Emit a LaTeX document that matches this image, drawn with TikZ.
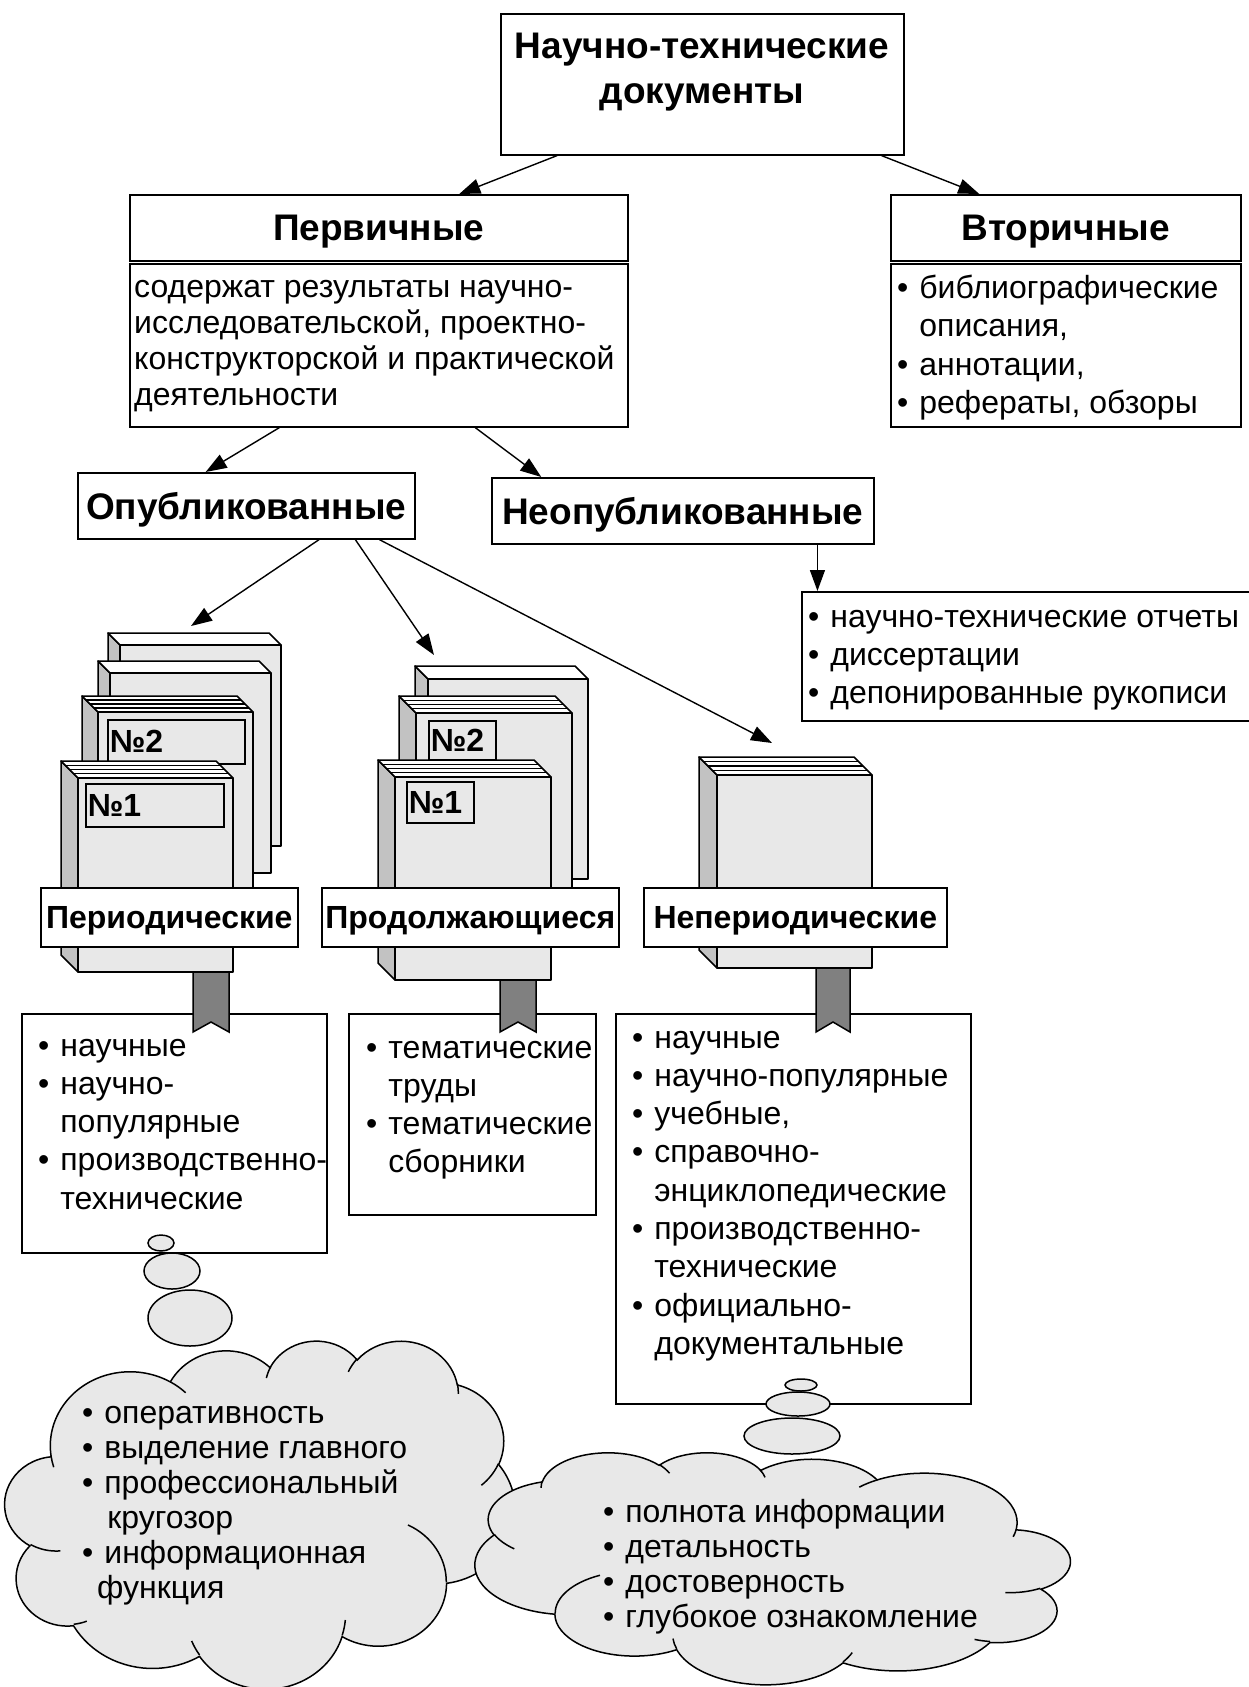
\documentclass[tikz,border=0pt]{standalone}
\usepackage{fontspec}
\setmainfont{Liberation Sans}
\usetikzlibrary{arrows.meta,calc}

\definecolor{facegray}{gray}{0.91}
\definecolor{spinegray}{gray}{0.76}
\definecolor{ribbongray}{gray}{0.50}
\definecolor{cloudgray}{gray}{0.91}

\newcommand\bodytext{\fontsize{32}{38.3}\selectfont}
\newcommand\desctext{\fontsize{32}{36}\selectfont}
\newcommand\sectext{\fontsize{32}{38.5}\selectfont}
\newcommand\cloudtext{\fontsize{32}{35}\selectfont}
\newcommand\headtext{\fontsize{37}{45}\selectfont\bfseries}
\newcommand\labeltext{\fontsize{32}{38}\selectfont\bfseries}
\newcommand\bitem{\textbullet\hspace{11pt}}
\newcommand\bindent{\phantom{\textbullet}\hspace{11pt}}

\tikzset{
  box/.style={draw, line width=1.6pt, fill=white, inner sep=0pt, anchor=north west},
  headbox/.style={box, font=\headtext, text depth=0pt},
  conn/.style={line width=1.4pt, -{Triangle[length=21pt,width=15pt]}},
  lst/.style={font=\bodytext, align=left, anchor=north west, inner sep=0pt},
  bookline/.style={line width=1.5pt, line join=round},
  numlabel/.style={draw, line width=1.5pt, fill=facegray, inner xsep=2pt, inner ysep=0pt,
    anchor=north west, align=left, font=\labeltext},
  kindlabel/.style={box, font=\labeltext, text depth=0pt, minimum height=59},
  ribbon/.style={draw, line width=1.5pt, fill=ribbongray},
  bubble/.style={draw, line width=1.5pt, fill=cloudgray},
  % elliptic arc given by radii, visual start angle and sweep
  ooarc/.style n args={4}{insert path={arc[x radius=#1, y radius=#2,
      start angle={atan2((#1)*sin(#3),(#2)*cos(#3))},
      delta angle={mod(atan2((#1)*sin((#3)+(#4)),(#2)*cos((#3)+(#4)))-atan2((#1)*sin(#3),(#2)*cos(#3))+720,360)}]}},
}

% book with spine, top edge and front face; last argument 1 adds page lines
\newcommand\drawbook[6]{%
  \filldraw[bookline, fill=spinegray] (#1,#2) -- (#1+#3,#2+#3) -- (#1+#3,#5) -- (#1,#5-#3) -- cycle;
  \filldraw[bookline, fill=white] (#1,#2) -- (#4-#3,#2) -- (#4,#2+#3) -- (#1+#3,#2+#3) -- cycle;
  \filldraw[bookline, fill=facegray] (#1+#3,#2+#3) rectangle (#4,#5);
  \ifnum#6=1
    \foreach \f in {0.25,0.5,0.75}
      \draw[line width=1.1pt] (#1+\f*#3,#2+\f*#3) -- (#4-#3+\f*#3,#2+\f*#3);
  \fi}

% cloud outline in a 4320 x 4320 frame, placed by shift and scale
\newcommand\cloudshape[4]{%
  \begin{scope}[shift={(#1,#2)}, xscale=#3, yscale=#4]
    \filldraw[line width=1.5pt, fill=cloudgray] (390,1437)
      [ooarc={675.3}{919.0}{-190.4875}{123.7805}]
      [ooarc={533.3}{726.7}{-144.1024}{89.9452}]
      [ooarc={436.5}{594.5}{-145.8079}{99.7230}]
      [ooarc={485.7}{659.5}{-130.9861}{117.2417}]
      [ooarc={533.3}{727.3}{-78.7089}{109.0269}]
      [ooarc={677.5}{922.0}{-46.2673}{130.2690}]
      [ooarc={578.5}{786.7}{0.6250}{114.0333}]
      [ooarc={675.2}{921.5}{22.4516}{115.1726}]
      [ooarc={772.0}{1054.3}{66.2426}{75.7110}]
      [ooarc={436.0}{591.8}{-274.9421}{146.7356}]
      [ooarc={434.5}{594.5}{-246.8285}{152.5189}]
      -- cycle;
    \draw[line width=1.5pt]
      (469.3,2617.7) [ooarc={434.5}{594.5}{86.7420}{26.4295}]
      (692.8,3489.9) [ooarc={436.0}{591.8}{73.6105}{11.4475}]
      (1647.8,3909.0) [ooarc={675.2}{921.5}{137.6242}{14.0811}]
      (2882.7,3475.1) [ooarc={675.2}{921.5}{6.4533}{15.9984}]
      (3412.9,2295.4) [ooarc={578.5}{786.7}{-70.2924}{70.9174}]
      (4179.8,1535.4) [ooarc={533.3}{727.3}{30.3180}{27.7515}]
      (3832.4,542.6) [ooarc={485.7}{659.5}{-13.7443}{14.8589}]
      (2907.8,395.2) [ooarc={485.7}{659.5}{-149.1815}{18.1954}]
      (2214.1,472.0) [ooarc={436.5}{594.5}{-163.4943}{17.6864}]
      (1400.0,519.2) [ooarc={675.3}{919.0}{-66.7070}{12.3194}]
      (412.7,1578.9) [ooarc={675.3}{919.0}{157.6544}{11.8582}];
  \end{scope}}

\begin{document}
\begin{tikzpicture}[x=1pt,y=-1pt]
\useasboundingbox (0,0) rectangle (1248,1687);

% ---------- top level
\node[box, minimum width=403, minimum height=141] (top) at (500,13) {};
\node[font=\headtext, align=center, inner sep=0pt] (toptitle) at (702,72) {Научно-технические\\документы};

\node[headbox, minimum width=498, minimum height=66] (prim) at (129,194) {Первичные};
\node[box, minimum width=498, minimum height=163] (primdesc) at (129,263) {};
\node[lst, font=\desctext] (primtext) at (134,272) {\strut содержат результаты научно-\\исследовательской, проектно-\\конструкторской и практической\\деятельности};

\node[headbox, minimum width=350, minimum height=66] (sec) at (890,194) {Вторичные};
\node[box, minimum width=350, minimum height=163] (secdesc) at (890,263) {};
\node[lst, font=\sectext] (sectext) at (897,271) {\strut\bitem библиографические\\\bindent описания,\\\bitem аннотации,\\\bitem рефераты, обзоры};

\draw[conn] ($(top.south west)!0.141!(top.south east)$) -- ($(prim.north west)!0.661!(prim.north east)$);
\draw[conn] ($(top.south west)!0.943!(top.south east)$) -- ($(sec.north west)!0.254!(sec.north east)$);

% ---------- published / unpublished
\node[headbox, minimum width=337, minimum height=66] (pub) at (77,472) {Опубликованные};
\node[headbox, minimum width=382, minimum height=66] (unpub) at (491,477) {Неопубликованные};
\draw[conn] ($(primdesc.south west)!0.301!(primdesc.south east)$) -- ($(pub.north west)!0.38!(pub.north east)$);
\draw[conn] ($(primdesc.south west)!0.693!(primdesc.south east)$) -- ($(unpub.north west)!0.131!(unpub.north east)$);

\node[box, minimum width=460, minimum height=129] (unlist) at (801,591) {};
\node[lst] (untext) at (808,600) {\strut\bitem научно-технические отчеты\\\bitem диссертации\\\bitem депонированные рукописи};
\coordinate (unout) at ($(unpub.south west)!0.851!(unpub.south east)$);
\draw[conn] (unout) -- (unout |- unlist.north);

\coordinate (pertip) at (191,626);
\coordinate (conttip) at (434,655);
\coordinate (nontip) at (772,743);
\draw[conn] ($(pub.south west)!0.715!(pub.south east)$) -- (pertip);
\draw[conn] ($(pub.south west)!0.822!(pub.south east)$) -- (conttip);
\draw[conn] ($(pub.south west)!0.893!(pub.south east)$) -- (nontip);

% ---------- lists under the books
\node[box, minimum width=305, minimum height=239] (perlist) at (21,1013) {};
\node[box, minimum width=247, minimum height=201] (contlist) at (348,1013) {};
\node[box, minimum width=355, minimum height=390] (nonlist) at (615,1013) {};
\node[lst] (pertext) at (38,1029) {\strut\bitem научные\\\bitem научно-\\\bindent популярные\\\bitem производственно-\\\bindent технические};
\node[lst] (conttext) at (366,1031) {\strut\bitem тематические\\\bindent труды\\\bitem тематические\\\bindent сборники};
\node[lst] (nontext) at (632,1021) {\strut\bitem научные\\\bitem научно-популярные\\\bitem учебные,\\\bitem справочно-\\\bindent энциклопедические\\\bitem производственно-\\\bindent технические\\\bitem официально-\\\bindent документальные};

% ---------- bookmarks
\path[ribbon] (193,960) -- (229,960) -- (229,1032) -- (211,1022) -- (193,1032) -- cycle;
\path[ribbon] (500,970) -- (536,970) -- (536,1032) -- (518,1022) -- (500,1032) -- cycle;
\path[ribbon] (816,960) -- (850,960) -- (850,1032) -- (833,1022) -- (816,1032) -- cycle;

% ---------- periodicals
\drawbook{108}{633}{12}{281}{846}{0}
\drawbook{98}{661}{12}{271}{873}{0}
\drawbook{82}{696}{16}{253}{920}{1}
\node[numlabel, text width=133, minimum height=44] (pn2) at (107,719) {№2};
\drawbook{61}{761}{17}{233}{972}{1}
\node[numlabel, text width=134, minimum height=43] (pn1) at (85,783) {№1};

% ---------- continuing editions
\drawbook{415}{666}{13}{588}{879}{0}
\drawbook{399}{696}{17}{572}{920}{1}
\node[numlabel, text width=63, minimum height=39] (cn2) at (428,720) {№2};
\drawbook{378}{760}{17}{551}{980}{1}
\node[numlabel, text width=63, minimum height=41] (cn1) at (406,781) {№1};

% ---------- non-periodical
\drawbook{699}{757}{18}{872}{968}{1}

\node[kindlabel, minimum width=257] (perlabel) at (40,887) {Периодические};
\node[kindlabel, minimum width=297] (contlabel) at (321,887) {Продолжающиеся};
\node[kindlabel, minimum width=303] (nonlabel) at (643,887) {Непериодические};

% ---------- thought bubbles
\draw[bubble] (161,1243) ellipse [x radius=13pt, y radius=8pt];
\draw[bubble] (172,1271) ellipse [x radius=28pt, y radius=18pt];
\draw[bubble] (190,1318) ellipse [x radius=42pt, y radius=28pt];
\draw[bubble] (801,1385) ellipse [x radius=16pt, y radius=6pt];
\draw[bubble] (798,1404) ellipse [x radius=32pt, y radius=12pt];
\draw[bubble] (792,1436) ellipse [x radius=48pt, y radius=18pt];

% ---------- clouds
\cloudshape{5}{1340}{0.11806}{0.08056}
\cloudshape{1070}{1452}{-0.13773}{0.0537}

\node[lst, font=\cloudtext] (lefttext) at (82,1399) {\strut\bitem оперативность\\\bitem выделение главного\\\bitem профессиональный\\\bindent\hspace*{3pt}кругозор\\\bitem информационная\\\hspace*{15pt}функция};
\node[lst, font=\cloudtext] (righttext) at (603,1498) {\strut\bitem полнота информации\\\bitem детальность\\\bitem достоверность\\\bitem глубокое ознакомление};
\end{tikzpicture}
\end{document}
